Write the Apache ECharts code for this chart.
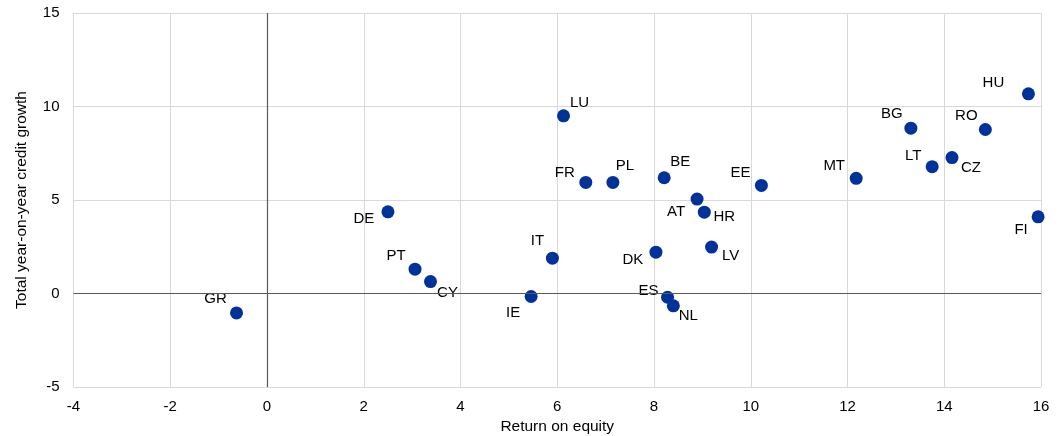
<!DOCTYPE html>
<html>
<head>
<meta charset="utf-8">
<script src="https://cdn.jsdelivr.net/npm/echarts@6/dist/echarts.min.js"></script>
<style>
html,body{margin:0;padding:0;background:#fff;}
#main{width:1059px;height:436px;}
</style>
</head>
<body>
<div id="main"></div>
<script>
var countries = ["GR","DE","PT","CY","IE","IT","LU","FR","PL","BE","DK","ES","NL","AT","HR","LV","EE","MT","BG","LT","CZ","RO","HU","FI"];
var roe = [-0.63,2.50,3.06,3.38,5.46,5.90,6.13,6.59,7.15,8.21,8.04,8.28,8.40,8.89,9.04,9.19,10.22,12.18,13.31,13.75,14.16,14.85,15.74,15.94];
var creditGrowth = [-1.04,4.37,1.30,0.64,-0.16,1.89,9.50,5.94,5.94,6.19,2.21,-0.20,-0.66,5.05,4.35,2.48,5.78,6.16,8.84,6.78,7.27,8.77,10.68,4.10];

// where each country code sits relative to its dot
var labelOffset = {
  GR:[-21,-14], DE:[-24,7], PT:[-19,-13], CY:[17,11], IE:[-18,16], IT:[-15,-17],
  LU:[16,-13], FR:[-21,-10], PL:[12,-17], BE:[16,-16], DK:[-23,8], ES:[-19,-6],
  NL:[15,10], AT:[-21,13], HR:[20,5], LV:[19,9], EE:[-21,-13], MT:[-22,-12],
  BG:[-19,-14], LT:[-19,-11], CZ:[19,10], RO:[-19,-14], HU:[-35,-11], FI:[-17,13]
};

var font = "'Liberation Sans', Arial, sans-serif";
var points = countries.map(function (c, i) {
  return {
    name: c,
    value: [roe[i], creditGrowth[i]],
    label: {offset: labelOffset[c]}
  };
});

var chart = echarts.init(document.getElementById('main'));
chart.setOption({
  animation: false,
  grid: {left: 73.5, right: 18, top: 13, bottom: 49, outerBoundsMode: 'none', containLabel: false},
  xAxis: {
    type: 'value', min: -4, max: 16, interval: 2,
    name: 'Return on equity', nameLocation: 'middle', nameGap: 31,
    nameTextStyle: {fontFamily: font, fontSize: 15.5, color: '#000'},
    axisLine: {show: false}, axisTick: {show: false},
    axisLabel: {fontFamily: font, fontSize: 15, color: '#000', margin: 12},
    splitLine: {lineStyle: {color: '#d9d9d9', width: 1}}
  },
  yAxis: {
    type: 'value', min: -5, max: 15, interval: 5,
    name: 'Total year-on-year credit growth', nameLocation: 'middle', nameGap: 44,
    nameTextStyle: {fontFamily: font, fontSize: 15.5, color: '#000'},
    axisLine: {show: false}, axisTick: {show: false},
    axisLabel: {fontFamily: font, fontSize: 15, color: '#000', margin: 14},
    splitLine: {lineStyle: {color: '#d9d9d9', width: 1}}
  },
  series: [{
    type: 'scatter',
    symbolSize: 13,
    itemStyle: {color: '#003299', opacity: 1},
    label: {
      show: true, position: 'inside',
      formatter: '{b}',
      fontFamily: font, fontSize: 15, color: '#000'
    },
    data: points,
    markLine: {
      silent: true, symbol: 'none', label: {show: false},
      lineStyle: {color: '#595959', width: 1.2, type: 'solid', opacity: 1},
      data: [{xAxis: 0}, {yAxis: 0}]
    }
  }]
});
</script>
</body>
</html>
